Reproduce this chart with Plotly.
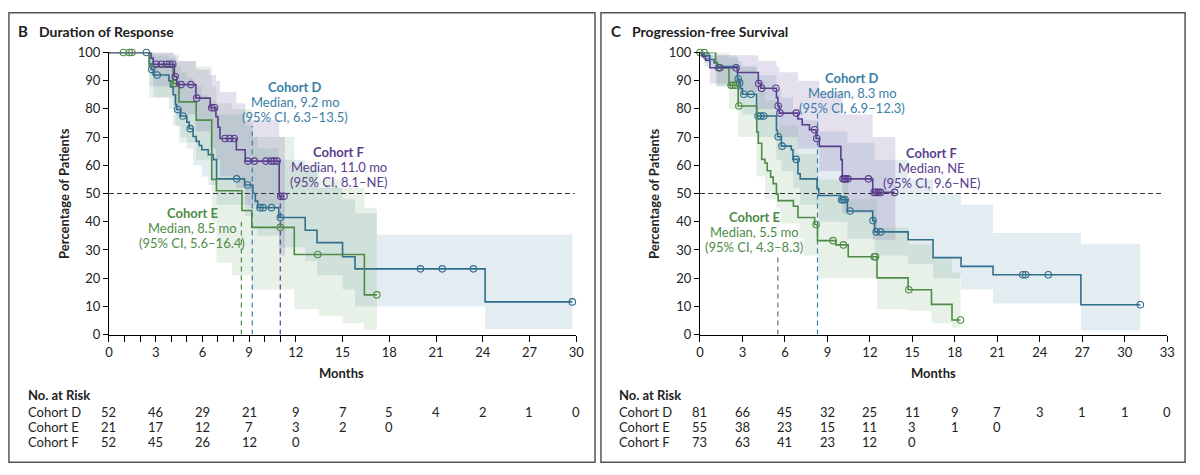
import numpy as np
import plotly.graph_objects as go

W, H = 1200, 475

# ---------------- Panel B: Duration of Response ----------------
B_D_t = [0, 2.6, 2.7, 2.85, 3.85, 3.95, 4.12, 4.27, 4.35, 4.6, 5.0, 5.15, 5.4, 5.6, 5.8, 5.96, 6.38, 6.7, 6.91, 8.71,
         9.24, 9.4, 9.55, 10.9, 12.6, 13.36, 15.0, 15.8, 24.15]
B_D_s = [100, 96, 94, 92, 90, 87.8, 85, 81.5, 79.8, 77.5, 75.3, 73, 70.2, 68.5, 67, 65.5, 63.8, 62, 55.2, 53,
         50, 47.3, 45, 41.5, 37, 32.6, 27.6, 23.3, 11.6]
B_D_cens = [2.4, 2.75, 3.1, 4.42, 4.75, 5.22, 8.2, 8.9, 9.7, 9.9, 10.44, 11.0, 20.0, 21.4, 23.4, 29.75]

B_E_t = [0, 2.58, 4.12, 4.5, 5.6, 6.6, 6.9, 8.54, 9.17, 11.9, 16.4]
B_E_s = [100, 95, 89, 82.5, 76, 55, 51, 44, 38, 28.4, 14.1]
B_E_cens = [0.93, 1.31, 1.48, 4.17, 4.27, 11.0, 13.4, 17.2]

B_F_t = [0, 2.7, 2.84, 4.2, 4.35, 5.58, 6.5, 6.87, 7.0, 7.13, 8.18, 8.75, 10.93]
B_F_s = [100, 98, 95.8, 91.5, 88.6, 83.8, 80.4, 77.2, 73.5, 69.5, 65.5, 61.5, 49]
B_F_cens = [3.04, 3.36, 3.68, 3.89, 4.1, 4.25, 4.63, 5.26, 5.64, 6.6, 6.78, 7.45, 7.76, 8.04, 8.92, 9.34,
            10.08, 10.4, 10.6, 10.8, 11.03, 11.24]

B_D_ci_t = [0, 2.6, 2.85, 3.85, 4.27, 4.6, 5.0, 5.4, 5.96, 6.38, 6.91, 8.71, 9.24, 9.55, 10.9, 12.6, 13.36, 15.0,
            15.8, 17.2, 24.15, 29.75]
B_D_ci_hi = [100, 100, 99, 98, 95, 93, 91, 88, 85, 83, 78, 74, 70, 66, 62, 58, 52, 48, 43, 35.5, 35.5, 35.5]
B_D_ci_lo = [100, 88, 84, 80, 74, 70, 66, 60, 56, 53, 46, 42, 38, 35, 31, 26, 21, 16, 10, 10, 2, 2]

B_E_ci_t = [0, 2.58, 4.12, 4.5, 5.6, 6.6, 6.9, 7.9, 9.17, 11.9, 13.5, 15.0, 16.4, 17.2]
B_E_ci_hi = [100, 100, 99, 97, 95, 88, 82, 80, 70, 60, 55, 52, 45, 45]
B_E_ci_lo = [100, 84, 74, 68, 62, 40, 25.5, 21, 16, 9, 6.5, 4, 1.7, 1.7]

B_F_ci_t = [0, 2.7, 2.84, 4.2, 4.35, 5.58, 6.5, 6.87, 7.13, 8.18, 8.75, 10.93, 11.3]
B_F_ci_hi = [100, 100, 100, 99, 97, 94, 92, 90, 86, 82, 76, 70, 70]
B_F_ci_lo = [100, 92, 88, 82, 78, 72, 66, 62, 56, 52, 46, 28, 28]

B_medians = {"D": 9.2, "E": 8.5, "F": 11.0}
B_ticks = list(range(0, 31, 3))
B_risk_D = [52, 46, 29, 21, 9, 7, 5, 4, 2, 1, 0]
B_risk_E = [21, 17, 12, 7, 3, 2, 0]
B_risk_F = [52, 45, 26, 12, 0]

# ---------------- Panel C: Progression-free Survival ----------------
C_D_t = [0, 0.3, 0.7, 1.0, 1.2, 2.65, 2.75, 2.85, 3.0, 4.0, 5.4, 5.48, 5.75, 6.45, 6.57, 6.92, 7.08, 8.27, 8.39, 9.94,
         10.41, 12.2, 12.34, 14.7, 16.46, 18.44, 20.7, 26.9]
C_D_s = [100, 98.8, 97.5, 96.3, 95, 90.6, 89.2, 87.2, 85.2, 77.5, 72.4, 70.1, 66.8, 65.5, 62.1, 57, 55.2, 51.8, 49.3, 47.8,
         43.8, 40.4, 36.4, 33.6, 27.3, 24.2, 21.2, 10.6]
C_D_cens = [0.45, 2.7, 2.8, 3.1, 3.6, 4.1, 4.3, 4.5, 5.52, 5.8, 6.8, 10.0, 10.1, 10.25, 10.6, 12.22, 12.45, 12.75,
            22.8, 23.0, 24.6, 31.1]

C_E_t = [0, 1.1, 1.25, 2.05, 2.7, 4.01, 4.12, 4.36, 4.59, 4.75, 4.99, 5.17, 5.4, 5.52, 6.6, 6.92, 8.1, 8.3, 9.59, 10.47,
         12.5, 14.7, 16.35, 17.8]
C_E_s = [100, 96.4, 94.6, 88.4, 81, 71.8, 67.8, 62.1, 60.8, 58.1, 55.8, 53.5, 49.8, 47.5, 45.5, 41.5, 39, 33.3, 31.8, 27.6,
         20.1, 15.9, 10.7, 5.2]
C_E_cens = [0.0, 0.3, 1.3, 2.2, 2.35, 2.5, 2.75, 8.2, 9.4, 10.13, 12.3, 12.4, 14.75, 18.4]

C_F_t = [0, 0.15, 0.4, 0.7, 2.65, 4.12, 4.3, 5.4, 5.5, 5.6, 6.92, 7.22, 7.73, 8.2, 8.43, 9.95, 10.05, 12.2]
C_F_s = [100, 98.6, 97.2, 94.6, 92.9, 89, 87.3, 84, 81, 78.5, 76.4, 74.4, 72.6, 69.5, 66.7, 62, 55.2, 50.4]
C_F_cens = [1.4, 2.55, 4.15, 4.35, 5.36, 5.52, 5.65, 6.8, 8.1, 8.25, 10.1, 10.2, 10.3, 10.45, 11.9, 12.3, 12.45,
            12.6, 12.75, 13.75]

C_D_ci_t = [0, 0.3, 1.2, 2.65, 3.0, 4.0, 5.4, 5.75, 6.57, 7.08, 8.39, 10.41, 12.34, 14.7, 16.46, 18.44, 20.7, 26.9, 31.1]
C_D_ci_hi = [100, 100, 99, 97, 95, 92, 87, 84, 80, 76, 72, 68, 62, 55, 50, 46, 36, 32, 32]
C_D_ci_lo = [100, 95, 88, 82, 78, 70, 62, 58, 52, 46, 40, 34, 28, 25, 20, 16, 11, 1.5, 1.5]

C_E_ci_t = [0, 1.1, 2.05, 2.7, 4.01, 4.59, 5.4, 6.92, 8.3, 10.47, 12.5, 14.7, 16.35, 17.8, 18.4]
C_E_ci_hi = [100, 100, 98, 95, 90, 83, 74, 64, 55, 48, 38, 32, 27, 22, 22]
C_E_ci_lo = [100, 88, 80, 70, 56, 48, 38, 28, 20, 20, 9, 8.5, 4, 2.5, 2.5]

C_F_ci_t = [0, 0.7, 2.65, 4.12, 5.4, 5.6, 6.92, 8.43, 10.05, 12.2, 13.8]
C_F_ci_hi = [100, 99, 99, 97, 95, 93, 90, 86, 78, 70, 70]
C_F_ci_lo = [100, 89, 86, 80, 74, 70, 66, 58, 43, 33.6, 33.6]

C_medians = {"D": 8.3, "E": 5.5}
C_ticks = list(range(0, 34, 3))
C_risk_D = [81, 66, 45, 32, 25, 11, 9, 7, 3, 1, 1, 0]
C_risk_E = [55, 38, 23, 15, 11, 3, 1, 0]
C_risk_F = [73, 63, 41, 23, 12, 0]

# ---------------- styling ----------------
FONT = "Lato"
COL = {"D": "#2F6E8C", "E": "#4E8B47", "F": "#5A3E8E"}
TXT = {"D": "#3B7EA6", "E": "#4E8B47", "F": "#5A3E8E"}
BAND = {"D": "rgba(90,140,165,0.17)", "E": "rgba(110,170,110,0.16)", "F": "rgba(120,100,170,0.20)"}


def px(x):
    return x / W


def py(y):
    return 1 - y / H


def step_val(t, s, c):
    idx = np.searchsorted(np.array(t), np.array(c), side="right") - 1
    return np.array(s)[idx]


fig = go.Figure()


def add_band(t, lo, hi, key, xa, ya):
    fig.add_trace(go.Scatter(x=t, y=hi, mode="lines", line=dict(width=0, shape="hv"),
                             xaxis=xa, yaxis=ya, hoverinfo="skip", showlegend=False))
    fig.add_trace(go.Scatter(x=t, y=lo, mode="lines", line=dict(width=0, shape="hv"),
                             fill="tonexty", fillcolor=BAND[key],
                             xaxis=xa, yaxis=ya, hoverinfo="skip", showlegend=False))


def add_curve(t, s, cens, key, xa, ya):
    end = max(cens[-1], t[-1])
    xs = list(t) + [end]
    ys = list(s) + [s[-1]]
    fig.add_trace(go.Scatter(x=xs, y=ys, mode="lines", line=dict(color=COL[key], width=1.6, shape="hv"),
                             xaxis=xa, yaxis=ya, cliponaxis=False, showlegend=False))
    fig.add_trace(go.Scatter(x=cens, y=step_val(t, s, cens), mode="markers",
                             marker=dict(symbol="circle-open", size=6.5, color=COL[key], line=dict(width=1.1)),
                             xaxis=xa, yaxis=ya, cliponaxis=False, showlegend=False))


def add_vline(xv, top, key, xa, ya):
    fig.add_trace(go.Scatter(x=[xv, xv], y=[0, top], mode="lines",
                             line=dict(color=TXT[key], width=1.2, dash="5px,4px"),
                             xaxis=xa, yaxis=ya, showlegend=False))


# Panel B
add_band(B_D_ci_t, B_D_ci_lo, B_D_ci_hi, "D", "x", "y")
add_band(B_E_ci_t, B_E_ci_lo, B_E_ci_hi, "E", "x", "y")
add_band(B_F_ci_t, B_F_ci_lo, B_F_ci_hi, "F", "x", "y")
fig.add_trace(go.Scatter(x=[0, 29.9], y=[50, 50], mode="lines", line=dict(color="#333", width=1.1, dash="5px,3px"),
                         xaxis="x", yaxis="y", showlegend=False))
add_vline(B_medians["E"], 40, "E", "x", "y")
add_vline(B_medians["D"], 74, "D", "x", "y")
add_vline(B_medians["F"], 49, "F", "x", "y")
add_curve(B_D_t, B_D_s, B_D_cens, "D", "x", "y")
add_curve(B_E_t, B_E_s, B_E_cens, "E", "x", "y")
add_curve(B_F_t, B_F_s, B_F_cens, "F", "x", "y")

# Panel C
add_band(C_D_ci_t, C_D_ci_lo, C_D_ci_hi, "D", "x2", "y2")
add_band(C_E_ci_t, C_E_ci_lo, C_E_ci_hi, "E", "x2", "y2")
add_band(C_F_ci_t, C_F_ci_lo, C_F_ci_hi, "F", "x2", "y2")
fig.add_trace(go.Scatter(x=[0, 32.7], y=[50, 50], mode="lines", line=dict(color="#333", width=1.1, dash="5px,3px"),
                         xaxis="x2", yaxis="y2", showlegend=False))
add_vline(C_medians["E"], 44, "E", "x2", "y2")
add_vline(C_medians["D"], 79, "D", "x2", "y2")
add_curve(C_D_t, C_D_s, C_D_cens, "D", "x2", "y2")
add_curve(C_E_t, C_E_s, C_E_cens, "E", "x2", "y2")
add_curve(C_F_t, C_F_s, C_F_cens, "F", "x2", "y2")

ydom = [py(338), py(46)]
axis_common = dict(showline=True, linecolor="black", linewidth=1, ticks="outside", ticklen=6, tickcolor="black",
                   tickwidth=1, showgrid=False, zeroline=False, tickfont=dict(family=FONT, size=13, color="#222"))

fig.update_layout(
    width=W, height=H, margin=dict(l=0, r=0, t=0, b=0),
    paper_bgcolor="white", plot_bgcolor="rgba(0,0,0,0)",
    font=dict(family=FONT, size=13, color="#222"),
    xaxis=dict(domain=[px(106), px(578)], range=[0, 30], anchor="y", tickvals=B_ticks,
               minor=dict(tickvals=[1, 2, 4, 5, 7, 8, 10, 11], ticks="outside", ticklen=6, tickcolor="black"),
               **axis_common),
    yaxis=dict(domain=ydom, range=[0, 100], anchor="x", dtick=10, **dict(axis_common, ticklen=5)),
    xaxis2=dict(domain=[px(703), px(1175)], range=[0, 33], anchor="y2", tickvals=C_ticks, **axis_common),
    yaxis2=dict(domain=ydom, range=[0, 100], anchor="x2", dtick=10, **dict(axis_common, ticklen=5)),
)

ann = []


def text(x, y, s, color="#222", size=13, bold=False, xanchor="center", xref="paper", angle=0, bg=None):
    d = dict(x=x, y=y, xref=xref, yref="paper", text=("<b>%s</b>" % s) if bold else s,
             showarrow=False, xanchor=xanchor, yanchor="middle", textangle=angle,
             font=dict(family=FONT, size=size, color=color), borderpad=0)
    if bg:
        d["bgcolor"] = bg
    ann.append(d)


# titles
text(px(13), py(24), "B", size=15, bold=True, xanchor="left")
text(px(34), py(24), "Duration of Response", size=14, bold=True, xanchor="left")
text(px(612), py(24), "C", size=15, bold=True, xanchor="left")
text(px(633), py(24), "Progression-free Survival", size=14, bold=True, xanchor="left")

# axis titles
text(px(60), py(192), "Percentage of Patients", bold=True, angle=-90)
text(px(656), py(192), "Percentage of Patients", bold=True, angle=-90)
text(px(341), py(378), "Months", bold=True)
text(px(939), py(378), "Months", bold=True)


# cohort annotations
def block(xc, y0, lines, key, bg=None):
    for i, ln in enumerate(lines):
        text(px(xc), py(y0 + i * 15.5), ln, color=TXT[key], bold=(i == 0), bg=bg)


block(294, 82, ["Cohort D", "Median, 9.2 mo", "(95% CI, 6.3–13.5)"], "D")
block(338, 149, ["Cohort F", "Median, 11.0 mo", "(95% CI, 8.1–NE)"], "F")
block(190, 212, ["Cohort E", "Median, 8.5 mo", "(95% CI, 5.6–16.4)"], "E")
block(857, 72, ["Cohort D", "Median, 8.3 mo", "(95% CI, 6.9–12.3)"], "D")
block(937, 150, ["Cohort F", "Median, NE", "(95% CI, 9.6–NE)"], "F")
block(758, 216, ["Cohort E", "Median, 5.5 mo", "(95% CI, 4.3–8.3)"], "E", bg="rgba(255,255,255,0.85)")


# risk tables
def risk_table(x_left, xref, ticks, rows):
    text(px(x_left), py(401), "No. at Risk", bold=True, xanchor="left")
    for r, (lab, vals) in enumerate(rows):
        yy = py(418 + r * 15.6)
        text(px(x_left), yy, lab, xanchor="left")
        for tv, v in zip(ticks, vals):
            text(tv, yy, str(v), xref=xref)


risk_table(23, "x", B_ticks, [("Cohort D", B_risk_D), ("Cohort E", B_risk_E), ("Cohort F", B_risk_F)])
risk_table(620, "x2", C_ticks, [("Cohort D", C_risk_D), ("Cohort E", C_risk_E), ("Cohort F", C_risk_F)])

fig.update_layout(annotations=ann)

# panel frames
for x0, x1 in [(5, 597), (603, 1193)]:
    fig.add_shape(type="rect", xref="paper", yref="paper", x0=px(x0), x1=px(x1), y0=py(470), y1=py(5),
                  line=dict(color="#555", width=1.5), fillcolor="rgba(0,0,0,0)", layer="below")

fig.write_html("out.html", config={"displayModeBar": False},
               post_script="document.body.style.margin='0';document.documentElement.style.overflow='hidden';")
